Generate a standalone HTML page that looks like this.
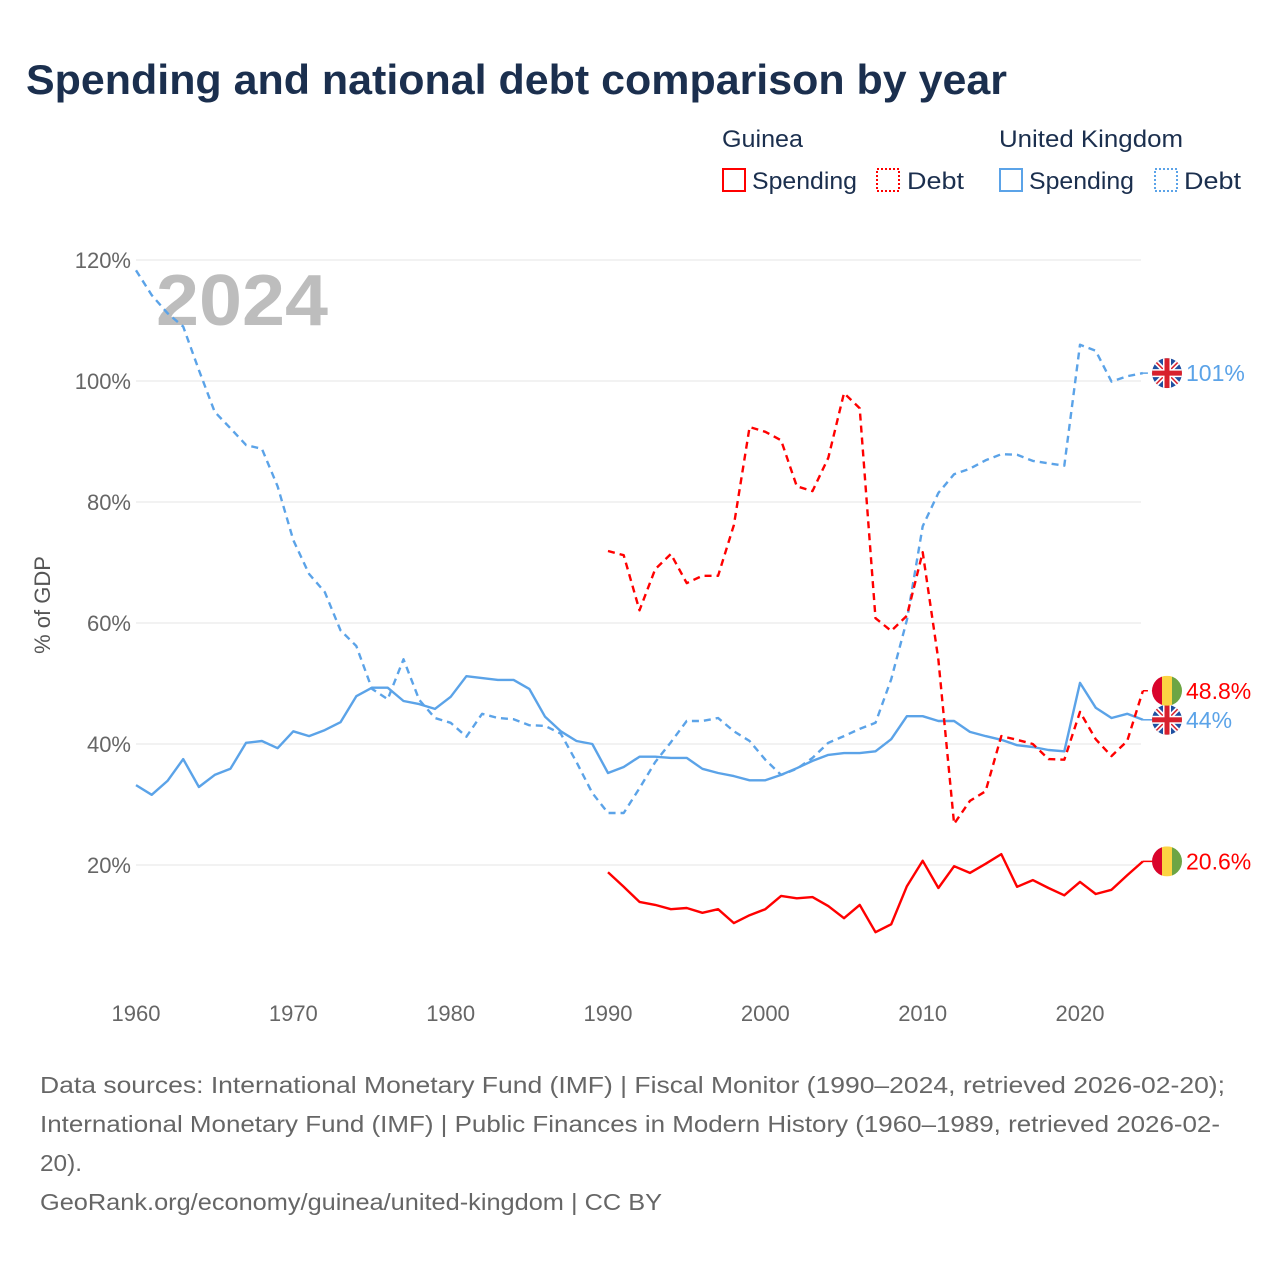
<!DOCTYPE html>
<html><head><meta charset="utf-8"><style>
html,body{margin:0;padding:0;background:#fff;}
svg{display:block;font-family:"Liberation Sans",sans-serif;}
</style></head><body>
<svg id="chart" width="1280" height="1280" viewBox="0 0 1280 1280" xmlns="http://www.w3.org/2000/svg">
<text x="26" y="94" font-size="42" font-weight="bold" fill="#1b2f4e" textLength="981" lengthAdjust="spacingAndGlyphs">Spending and national debt comparison by year</text>
<g font-size="24" fill="#1b2f4e">
<text x="722" y="147" textLength="81" lengthAdjust="spacingAndGlyphs">Guinea</text>
<rect x="723" y="169" width="22" height="22" fill="none" stroke="#f00" stroke-width="2"/>
<text x="752" y="189" textLength="105" lengthAdjust="spacingAndGlyphs">Spending</text>
<rect x="877" y="169" width="22" height="22" fill="none" stroke="#f00" stroke-width="2" stroke-dasharray="2,2"/>
<text x="907" y="189" textLength="57" lengthAdjust="spacingAndGlyphs">Debt</text>
<text x="999" y="147" textLength="184" lengthAdjust="spacingAndGlyphs">United Kingdom</text>
<rect x="1000" y="169" width="22" height="22" fill="none" stroke="#5ba3e8" stroke-width="2"/>
<text x="1029" y="189" textLength="105" lengthAdjust="spacingAndGlyphs">Spending</text>
<rect x="1155" y="169" width="22" height="22" fill="none" stroke="#5ba3e8" stroke-width="2" stroke-dasharray="2,2"/>
<text x="1184" y="189" textLength="57" lengthAdjust="spacingAndGlyphs">Debt</text>
</g>
<g id="grid"></g>
<text x="156" y="325" font-size="72" font-weight="bold" fill="#bdbdbd" textLength="172" lengthAdjust="spacingAndGlyphs">2024</text>
<text transform="translate(50,605) rotate(-90)" text-anchor="middle" font-size="22" fill="#555">% of GDP</text>
<g id="series"></g>
<g id="labels"></g>
<g font-size="23" fill="#666">
<text x="40" y="1093" textLength="1185" lengthAdjust="spacingAndGlyphs">Data sources: International Monetary Fund (IMF) | Fiscal Monitor (1990–2024, retrieved 2026-02-20);</text>
<text x="40" y="1132" textLength="1180" lengthAdjust="spacingAndGlyphs">International Monetary Fund (IMF) | Public Finances in Modern History (1960–1989, retrieved 2026-02-</text>
<text x="40" y="1171" textLength="42" lengthAdjust="spacingAndGlyphs">20).</text>
<a><text x="40" y="1210" textLength="622" lengthAdjust="spacingAndGlyphs">GeoRank.org/economy/guinea/united-kingdom | CC BY</text></a>
</g>
</svg>
<script>
const yTicks = [20, 40, 60, 80, 100, 120];
const xTicks = [1960, 1970, 1980, 1990, 2000, 2010, 2020];
const ukYears0 = 1960;
const gnYears0 = 1990;
const ukDebt = [118.3,114.2,111.2,109,101.8,94.9,92.2,89.4,88.8,82.6,73.7,68.1,65.1,58.8,56.2,49.1,47.4,54,47.3,44.3,43.5,41.2,45,44.3,44.1,43.1,43,41.7,37,31.9,28.6,28.6,32.7,37,40.3,43.8,43.8,44.3,42.1,40.5,37.4,34.9,35.9,37.7,40.2,41.3,42.5,43.5,50.7,60.5,76,81.5,84.6,85.5,86.9,87.9,87.8,86.8,86.4,86,106,105,99.9,100.8,101.3];
const ukSpending = [33.2,31.6,33.9,37.5,32.9,34.9,35.9,40.2,40.5,39.3,42.1,41.3,42.3,43.6,47.9,49.3,49.3,47.1,46.6,45.8,47.8,51.2,50.9,50.6,50.6,49.1,44.5,42.1,40.5,40,35.2,36.2,37.9,37.9,37.7,37.7,35.9,35.2,34.7,34,34,34.9,36,37.2,38.2,38.5,38.5,38.8,40.8,44.6,44.6,43.8,43.8,42,41.3,40.7,39.8,39.5,39,38.8,50.1,46,44.3,45,44];
const gnDebt = [71.9,71.2,62.1,68.9,71.4,66.6,67.8,67.8,76.2,92.4,91.6,90.2,82.6,81.8,87.3,98,95.5,60.8,58.7,61.2,71.7,53.9,26.8,30.6,32.2,41.3,40.7,40,37.5,37.4,45.3,40.8,38,40.5,48.8];
const gnSpending = [18.8,16.4,13.9,13.4,12.7,12.9,12.1,12.7,10.4,11.7,12.7,14.9,14.5,14.7,13.2,11.2,13.4,8.9,10.2,16.5,20.7,16.2,19.8,18.7,20.2,21.8,16.4,17.5,16.2,15,17.2,15.2,15.9,18.3,20.6];
const endLabels = ["101%", "44%", "48.8%", "20.6%"];

const NS = "http://www.w3.org/2000/svg";
const X0 = 136, XS = (1080 - 136) / 60, Y0 = 986, YS = (865 - 260) / 100;
const xs = yr => X0 + (yr - 1960) * XS;
const ys = v => Y0 - v * YS;
function mk(tag, attrs, parent) { const e = document.createElementNS(NS, tag); for (const k in attrs) e.setAttribute(k, attrs[k]); parent.appendChild(e); return e; }

const grid = document.getElementById('grid');
yTicks.forEach(v => {
  const l = mk('line', {x1: 136, x2: 1141, y1: ys(v), y2: ys(v), stroke: '#e6e6e6', 'stroke-width': 1}, grid);
  
  
  const t = mk('text', {x: 131, y: ys(v) + 8, 'text-anchor': 'end', 'font-size': 22, fill: '#666'}, grid);
  t.textContent = v + '%';
  
  
});
xTicks.forEach(yr => {
  const t = mk('text', {x: xs(yr), y: 1021, 'text-anchor': 'middle', 'font-size': 22, fill: '#666'}, grid);
  t.textContent = yr;
  
  
});

const series = document.getElementById('series');
function drawLine(vals, start, color, dashed, name) {
  const pts = vals.map((v, i) => xs(start + i).toFixed(1) + ',' + ys(v).toFixed(1)).join(' ');
  const p = mk('polyline', {points: pts, fill: 'none', stroke: color, 'stroke-width': 2.4, 'stroke-linejoin': 'round'}, series);
  if (dashed) p.setAttribute('stroke-dasharray', '7,5');
  
  
  return p;
}
drawLine(ukDebt, ukYears0, '#5ba3e8', true, 'uk-debt-line');
drawLine(ukSpending, ukYears0, '#5ba3e8', false, 'uk-spending-line');
drawLine(gnDebt, gnYears0, '#f00', true, 'guinea-debt-line');
drawLine(gnSpending, gnYears0, '#f00', false, 'guinea-spending-line');

const labels = document.getElementById('labels');
const FX = 1167;
function ukFlag(cy, name) {
  const g = mk('g', {}, labels);
  
  
  const id = 'c' + Math.round(cy);
  const cp = mk('clipPath', {id: id}, g);
  mk('circle', {cx: FX, cy: cy, r: 15}, cp);
  const gg = mk('g', {'clip-path': 'url(#' + id + ')'}, g);
  mk('rect', {x: FX - 15, y: cy - 15, width: 30, height: 30, fill: '#1f4fa0'}, gg);
  mk('line', {x1: FX - 15, y1: cy - 15, x2: FX + 15, y2: cy + 15, stroke: '#fff', 'stroke-width': 5}, gg);
  mk('line', {x1: FX + 15, y1: cy - 15, x2: FX - 15, y2: cy + 15, stroke: '#fff', 'stroke-width': 5}, gg);
  mk('line', {x1: FX - 15, y1: cy - 15, x2: FX + 15, y2: cy + 15, stroke: '#d8202c', 'stroke-width': 1.5}, gg);
  mk('line', {x1: FX + 15, y1: cy - 15, x2: FX - 15, y2: cy + 15, stroke: '#d8202c', 'stroke-width': 1.5}, gg);
  mk('rect', {x: FX - 15, y: cy - 4, width: 30, height: 8, fill: '#fff'}, gg);
  mk('rect', {x: FX - 4, y: cy - 15, width: 8, height: 30, fill: '#fff'}, gg);
  mk('rect', {x: FX - 15, y: cy - 2.5, width: 30, height: 5, fill: '#d8202c'}, gg);
  mk('rect', {x: FX - 2.5, y: cy - 15, width: 5, height: 30, fill: '#d8202c'}, gg);
}
function gnFlag(cy, name) {
  const g = mk('g', {}, labels);
  
  
  const id = 'g' + Math.round(cy);
  const cp = mk('clipPath', {id: id}, g);
  mk('circle', {cx: FX, cy: cy, r: 15}, cp);
  const gg = mk('g', {'clip-path': 'url(#' + id + ')'}, g);
  mk('rect', {x: FX - 15, y: cy - 15, width: 10, height: 30, fill: '#d9042b'}, gg);
  mk('rect', {x: FX - 5, y: cy - 15, width: 10, height: 30, fill: '#fcd443'}, gg);
  mk('rect', {x: FX + 5, y: cy - 15, width: 10, height: 30, fill: '#6da544'}, gg);
}
const ends = [
  {v: ukDebt[ukDebt.length - 1], c: '#5ba3e8', uk: true, dashed: true},
  {v: ukSpending[ukSpending.length - 1], c: '#5ba3e8', uk: true, dashed: false},
  {v: gnDebt[gnDebt.length - 1], c: '#f00', uk: false, dashed: true},
  {v: gnSpending[gnSpending.length - 1], c: '#f00', uk: false, dashed: false}
];
ends.forEach((e, i) => {
  const cy = ys(e.v);
  const ln = mk('line', {x1: xs(2024), y1: cy, x2: FX - 14, y2: cy, stroke: e.c, 'stroke-width': 1.5}, labels);
  if (e.dashed) ln.setAttribute('stroke-dasharray', '5,4');
  
  
  if (e.uk) ukFlag(cy, 'uk-flag-' + i); else gnFlag(cy, 'guinea-flag-' + i);
  const t = mk('text', {x: 1186, y: cy + 8, 'font-size': 23, fill: e.c}, labels);
  t.textContent = endLabels[i];
  
  
});
</script>
</body></html>
